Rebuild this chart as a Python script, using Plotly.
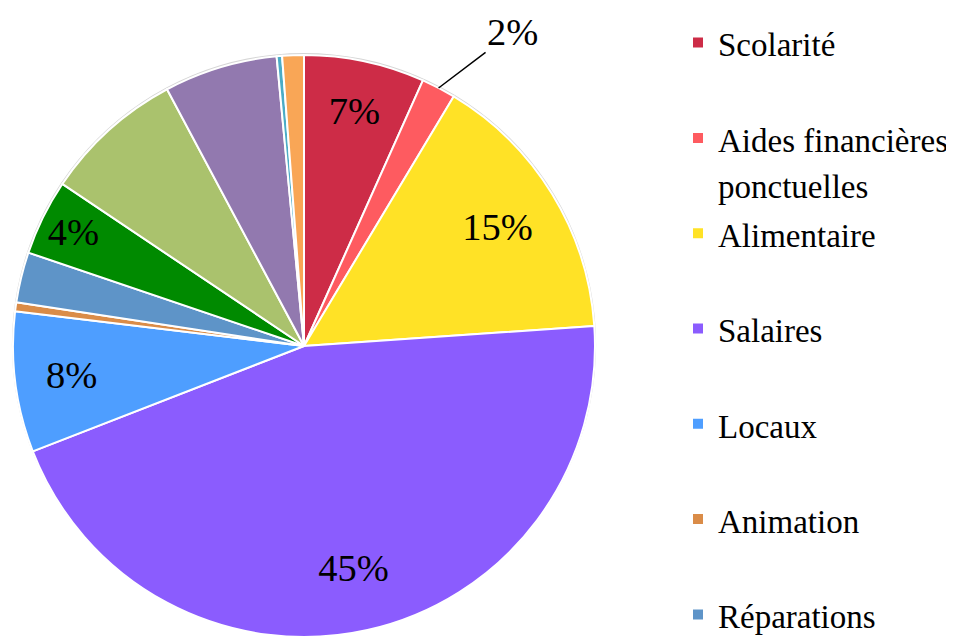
import math
import plotly.graph_objects as go

# categories (the last five sit below the visible part of the legend)
categories = ["Scolarité", "Aides financières<br>ponctuelles", "Alimentaire", "Salaires",
              "Locaux", "Animation", "Réparations", "Transport", "Vacances",
              "Fournitures", "Frais bancaires", "Divers"]
values = [6.7, 1.9, 15.3, 45.2, 7.8, 0.5, 2.8, 4.2, 7.8, 6.3, 0.3, 1.2]
shown_labels = ["7%", "2%", "15%", "45%", "8%", "", "", "4%", "", "", "", ""]
colors = ["#CD2C47", "#FE5B60", "#FFE226", "#8B5CFE", "#4E9EFF", "#DA8C48",
          "#5E94C8", "#008A00", "#AAC26D", "#9279AF", "#4BACC6", "#F9A656"]

font = "Liberation Serif, Liberation Sans, Arial, sans-serif"

# page body has an 8px margin, so the figure is a bit smaller than the window
W, H = 946, 629
pie_domain = dict(x=[4 / W, 588 / W], y=[0.0, 1 - 47 / H])
rim_domain = dict(x=[2 / W, 590 / W], y=[0.0, 1 - 45 / H])


def legend_text(name):
    # pad single-line entries to two lines so every entry takes the same slot;
    # trailing spaces push the legend's scroll bar past the right edge
    parts = name.split("<br>")
    if len(parts) == 1:
        parts.append("\u00a0")
    parts[-1] += "\u00a0" * 12
    return "<br>".join(f"<span style='font-size:33px'>{p}</span>" for p in parts)


fig = go.Figure()

# faint grey rim behind the pie
fig.add_trace(go.Pie(
    labels=["rim"], values=[1], textinfo="none",
    marker=dict(colors=["#D6D6D6"], line=dict(width=0)),
    domain=rim_domain, hoverinfo="skip", showlegend=False,
))

# the slices
fig.add_trace(go.Pie(
    labels=[legend_text(c) for c in categories],
    values=values,
    textinfo="none",
    marker=dict(colors=colors, line=dict(color="white", width=2)),
    sort=False,
    direction="clockwise",
    rotation=0,
    domain=pie_domain,
    hoverinfo="skip",
))

# percentage labels, carried by a transparent ring so they sit near the rim
# (the thin "2%" slice gets a callout instead)
ring_text = [t if i != 1 else "" for i, t in enumerate(shown_labels)]
fig.add_trace(go.Pie(
    labels=[legend_text(c) for c in categories],
    values=values,
    text=ring_text,
    textinfo="text",
    textposition="inside",
    insidetextorientation="horizontal",
    textfont=dict(family=font, size=38.5, color="black"),
    marker=dict(colors=["rgba(0,0,0,0)"] * len(values), line=dict(width=0)),
    hole=0.56,
    sort=False,
    direction="clockwise",
    rotation=0,
    domain=pie_domain,
    hoverinfo="skip",
    showlegend=False,
))

# callout for the thin slice, anchored on its rim at the slice's mid angle
total = sum(values)
mid = 2 * math.pi * (values[0] + values[1] / 2) / total
cx = (pie_domain["x"][0] + pie_domain["x"][1]) / 2 * W
cy = (pie_domain["y"][0] + pie_domain["y"][1]) / 2 * H
r = min((pie_domain["x"][1] - pie_domain["x"][0]) * W,
        (pie_domain["y"][1] - pie_domain["y"][0]) * H) / 2
fig.add_annotation(
    x=(cx + r * math.sin(mid)) / W, y=(cy + r * math.cos(mid)) / H,
    xref="paper", yref="paper",
    text=shown_labels[1], showarrow=True, arrowhead=0, arrowwidth=1.5,
    arrowcolor="black", ax=74, ay=-56, standoff=0,
    font=dict(family=font, size=38.5, color="black"),
)

fig.update_layout(
    width=W, height=H,
    margin=dict(l=0, r=0, t=0, b=0, autoexpand=False),
    paper_bgcolor="white",
    font=dict(family=font, color="black"),
    uniformtext=dict(minsize=38.5, mode="show"),
    legend=dict(x=670 / W, xanchor="left", y=1 - 5 / H, yanchor="top",
                valign="top", font=dict(family=font, size=35.5, color="black"),
                bgcolor="rgba(0,0,0,0)"),
)

fig.write_html("out.html")
